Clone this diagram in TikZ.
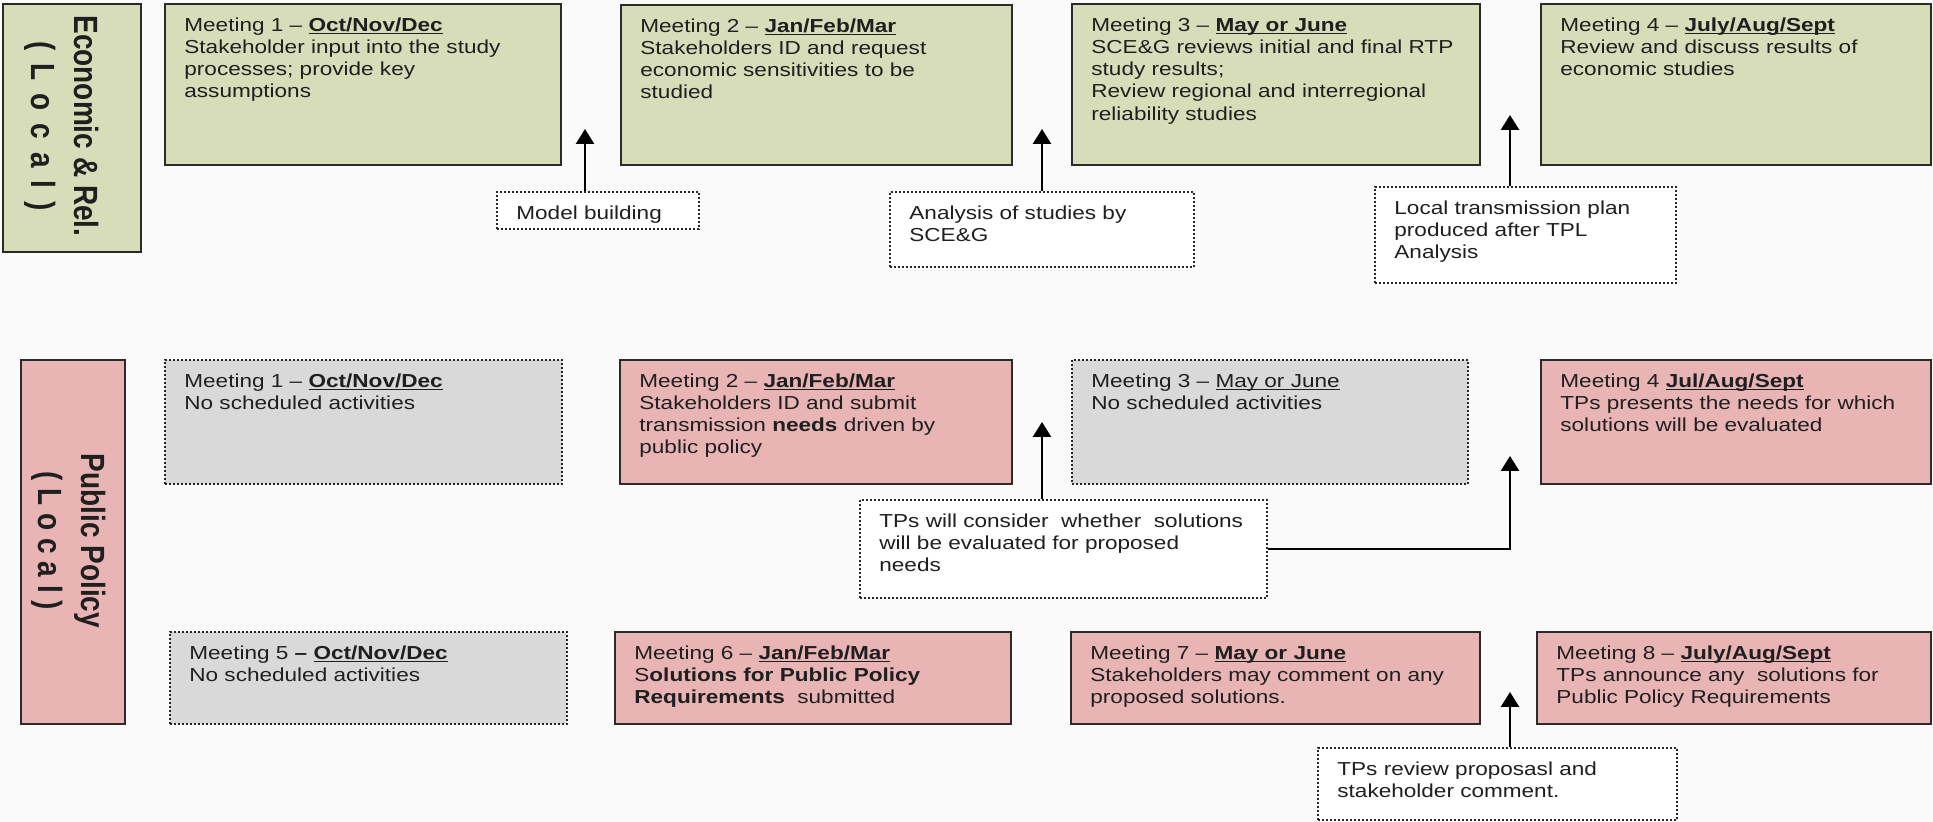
\documentclass[tikz,border=0pt]{standalone}
\usepackage{fontspec}
\setmainfont{Liberation Sans}[FakeStretch=1.2]
\newfontfamily\lblfont{Liberation Sans}
\usetikzlibrary{fit,arrows.meta}

\definecolor{bg}{HTML}{FAFAFA}
\definecolor{ecofill}{HTML}{D7DCB9}
\definecolor{polfill}{HTML}{E8B4B4}
\definecolor{idlefill}{HTML}{D9D9D9}
\definecolor{edge}{HTML}{2B2B2B}

% month ranges: bold (or plain) text with a rule at a fixed depth
\newcommand{\when}[1]{\setbox0\hbox{\textbf{#1}}\rlap{\copy0}\rule[-1.7pt]{\wd0}{0.8pt}}
\newcommand{\whenplain}[1]{\setbox0\hbox{#1}\rlap{\copy0}\rule[-1.7pt]{\wd0}{0.6pt}}

\tikzset{
  solidbox/.style={draw=edge, line width=1pt, inner sep=0pt},
  ecobox/.style={solidbox, fill=ecofill},
  polbox/.style={solidbox, fill=polfill},
  dotbox/.style={draw=black!85, line width=1pt, dash pattern=on 1pt off 1pt, inner sep=0pt},
  idlebox/.style={dotbox, fill=idlefill},
  notebox/.style={dotbox, fill=white},
  mtext/.style={anchor=north west, inner sep=0pt, align=left,
    font=\fontsize{9.4}{11.15}\selectfont, text=black!88},
  lbl/.style={rotate=-90, inner sep=0pt, text=black!88,
    font=\lblfont\bfseries\fontsize{14}{18}\selectfont},
  arr/.style={line width=1.25pt, draw=black, -{Triangle[length=7.5pt,width=9pt]}},
  inset/.style={shift={(10pt,-7pt)}},
}

\begin{document}
\begin{tikzpicture}[x=0.5pt, y=-0.5pt]
\useasboundingbox (0,0) rectangle (1933,822);
\fill[bg] (0,0) rectangle (1933,822);

% ---------- Economic & Reliability track ----------
\node[ecobox, fit={(3,4) (141,252)}] (econ) {};
\node[lbl] (econlbl) at (62,126) {\scalebox{1}[1.2]{\begin{tabular}{@{}c@{}}Economic \& Rel.\\
  (\hspace{6.5pt}L\hspace{6.5pt}o\hspace{6.5pt}c\hspace{6.5pt}a\hspace{6.5pt}l\hspace{6.5pt})\end{tabular}}};

\node[ecobox, fit={(165,4) (561,165)}] (e1) {};
\node[mtext] (e1t) at ([inset]e1.north west) {Meeting 1 -- \when{Oct/Nov/Dec}\\
  Stakeholder input into the study\\processes; provide key\\assumptions};

\node[ecobox, fit={(621,5) (1012,165)}] (e2) {};
\node[mtext] (e2t) at ([inset]e2.north west) {Meeting 2 -- \when{Jan/Feb/Mar}\\
  Stakeholders ID and request\\economic sensitivities to be\\studied};

\node[ecobox, fit={(1072,4) (1480,165)}] (e3) {};
\node[mtext] (e3t) at ([inset]e3.north west) {Meeting 3 -- \when{May or June}\\
  SCE\&G reviews initial and final RTP\\study results;\\Review regional and interregional\\reliability studies};

\node[ecobox, fit={(1541,4) (1931,165)}] (e4) {};
\node[mtext] (e4t) at ([inset]e4.north west) {Meeting 4 -- \when{July/Aug/Sept}\\
  Review and discuss results of\\economic studies};

% notes under the economic track
\node[notebox, fit={(497,192) (699,229)}] (mb) {};
\node[mtext] (mbt) at ([inset]mb.north west) {Model building};

\node[notebox, fit={(890,192) (1194,267)}] (an) {};
\node[mtext] (ant) at ([inset]an.north west) {Analysis of studies by\\SCE\&G};

\node[notebox, fit={(1375,187) (1676,283)}] (lt) {};
\node[mtext] (ltt) at ([inset]lt.north west) {Local transmission plan\\produced after TPL\\Analysis};

\coordinate (t1) at (585,129);
\coordinate (t2) at (1042,129);
\coordinate (t3) at (1510,115);
\draw[arr] (mb.north -| t1) -- (t1);
\draw[arr] (an.north -| t2) -- (t2);
\draw[arr] (lt.north -| t3) -- (t3);

% ---------- Public Policy track ----------
\node[polbox, fit={(21,360) (125,724)}] (pol) {};
\node[lbl] (pollbl) at (69,541) {\scalebox{1}[1.2]{\begin{tabular}{@{}c@{}}Public Policy\\( L o c a l )\end{tabular}}};

\node[idlebox, fit={(165,360) (562,484)}] (p1) {};
\node[mtext] (p1t) at ([inset]p1.north west) {Meeting 1 -- \when{Oct/Nov/Dec}\\No scheduled activities};

\node[polbox, fit={(620,360) (1012,484)}] (p2) {};
\node[mtext] (p2t) at ([inset]p2.north west) {Meeting 2 -- \when{Jan/Feb/Mar}\\
  Stakeholders ID and submit\\transmission \textbf{needs} driven by\\public policy};

\node[idlebox, fit={(1072,360) (1468,484)}] (p3) {};
\node[mtext] (p3t) at ([inset]p3.north west) {Meeting 3 -- \whenplain{May or June}\\No scheduled activities};

\node[polbox, fit={(1541,360) (1931,484)}] (p4) {};
\node[mtext] (p4t) at ([inset]p4.north west) {Meeting 4 \when{Jul/Aug/Sept}\\
  TPs presents the needs for which\\solutions will be evaluated};

\node[idlebox, fit={(170,632) (567,724)}] (p5) {};
\node[mtext] (p5t) at ([inset]p5.north west) {Meeting 5 \textbf{--} \when{Oct/Nov/Dec}\\No scheduled activities};

\node[polbox, fit={(615,632) (1011,724)}] (p6) {};
\node[mtext] (p6t) at ([inset]p6.north west) {Meeting 6 -- \when{Jan/Feb/Mar}\\
  S\textbf{olutions for Public Policy}\\\textbf{Requirements}\ \ submitted};

\node[polbox, fit={(1071,632) (1480,724)}] (p7) {};
\node[mtext] (p7t) at ([inset]p7.north west) {Meeting 7 -- \when{May or June}\\
  Stakeholders may comment on any\\proposed solutions.};

\node[polbox, fit={(1537,632) (1931,724)}] (p8) {};
\node[mtext] (p8t) at ([inset]p8.north west) {Meeting 8 -- \when{July/Aug/Sept}\\
  TPs announce any\ \ solutions for\\Public Policy Requirements};

% notes under the public policy track
\node[notebox, fit={(860,500) (1267,598)}] (tc) {};
\node[mtext] (tct) at ([inset]tc.north west) {TPs will consider\ \ whether\ \ solutions\\
  will be evaluated for proposed\\needs};

\node[notebox, fit={(1318,748) (1677,820)}] (tr) {};
\node[mtext] (trt) at ([inset]tr.north west) {TPs review proposasl and\\stakeholder comment.};

\coordinate (t4) at (1042,422);
\coordinate (t5) at (1510,456);
\coordinate (t6) at (1510,692);
\draw[arr] (tc.north -| t4) -- (t4);
\draw[arr] (tc.east) -| (t5);
\draw[arr] (tr.north -| t6) -- (t6);
\end{tikzpicture}
\end{document}
